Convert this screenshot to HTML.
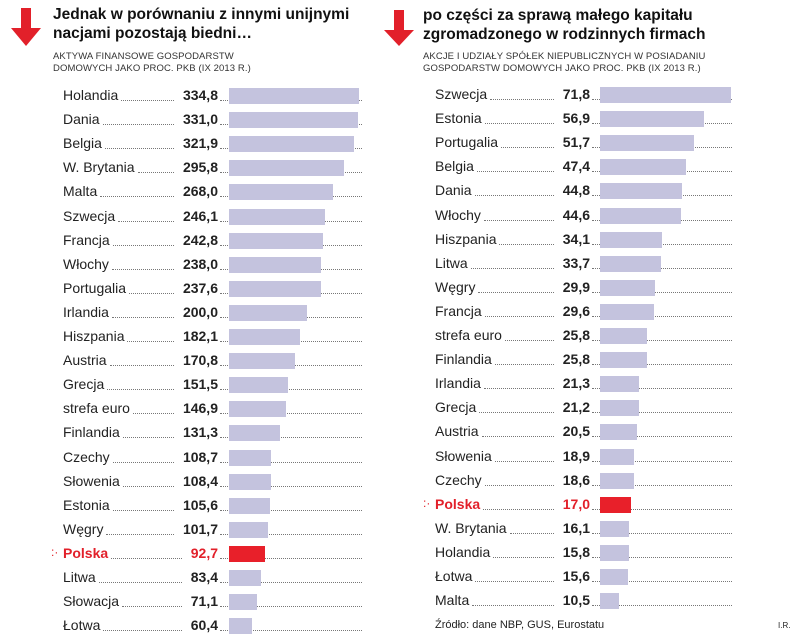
<!DOCTYPE html>
<html><head><meta charset="utf-8">
<style>
body{margin:0;background:#fff;width:805px;height:640px;overflow:hidden;position:relative;font-family:"Liberation Sans",sans-serif;color:#222}
.t{position:absolute;font-weight:bold;font-size:15.5px;line-height:19px;color:#111}
.s{position:absolute;font-size:9.5px;line-height:12px;color:#333;letter-spacing:0.1px}
.lab{position:absolute;font-size:14px;line-height:16px;white-space:nowrap}
.val{position:absolute;font-size:14px;line-height:16px;font-weight:bold;text-align:right;width:60px}
.dot{position:absolute;height:0;border-bottom:1.5px dotted #777}
.bar{position:absolute;height:16px;background:#c4c3de}
.red{color:#e2202a}
</style></head><body>
<svg style="position:absolute;left:8px;top:8px" width="36" height="40"><path d="M13 0h10v20h10L18 38 3 20h10z" fill="#e2202a"/></svg>
<svg style="position:absolute;left:381px;top:10px" width="36" height="40"><path d="M13 0h10v20h10L18 36 3 20h10z" fill="#e2202a"/></svg>
<div class="t" style="left:53px;top:5px">Jednak w porównaniu z innymi unijnymi<br>nacjami pozostają biedni…</div>
<div class="s" style="left:53px;top:51px">AKTYWA FINANSOWE GOSPODARSTW<br>DOMOWYCH JAKO PROC. PKB (IX 2013 R.)</div>
<div class="t" style="left:423px;top:6px">po części za sprawą małego kapitału<br>zgromadzonego w rodzinnych firmach</div>
<div class="s" style="left:423px;top:51px">AKCJE I UDZIAŁY SPÓŁEK NIEPUBLICZNYCH W POSIADANIU<br>GOSPODARSTW DOMOWYCH JAKO PROC. PKB (IX 2013 R.)</div>
<div style="position:absolute;left:435px;top:619px;font-size:11px">Źródło: dane NBP, GUS, Eurostatu</div>
<div style="position:absolute;left:778px;top:621px;font-size:8px">I.R.</div>
<script>
const leftCats=["Holandia","Dania","Belgia","W. Brytania","Malta","Szwecja","Francja","Włochy","Portugalia","Irlandia","Hiszpania","Austria","Grecja","strefa euro","Finlandia","Czechy","Słowenia","Estonia","Węgry","Polska","Litwa","Słowacja","Łotwa"];
const leftVals=[334.8,331.0,321.9,295.8,268.0,246.1,242.8,238.0,237.6,200.0,182.1,170.8,151.5,146.9,131.3,108.7,108.4,105.6,101.7,92.7,83.4,71.1,60.4];
const rightCats=["Szwecja","Estonia","Portugalia","Belgia","Dania","Włochy","Hiszpania","Litwa","Węgry","Francja","strefa euro","Finlandia","Irlandia","Grecja","Austria","Słowenia","Czechy","Polska","W. Brytania","Holandia","Łotwa","Malta"];
const rightVals=[71.8,56.9,51.7,47.4,44.8,44.6,34.1,33.7,29.9,29.6,25.8,25.8,21.3,21.2,20.5,18.9,18.6,17.0,16.1,15.8,15.6,10.5];
function fmt(v){return v.toFixed(1).replace('.',',');}
function draw(cats,vals,o){
  const max=Math.max(...vals);
  cats.forEach((c,i)=>{
    const cy=o.y0+i*o.step, hl=c==="Polska";
    const w=vals[i]/max*o.maxW;
    const lab=document.createElement('div');lab.className='lab'+(hl?' red':'');
    
    
    if(hl)lab.style.fontWeight='bold';
    lab.style.left=o.lx+'px';lab.style.top=(cy-9)+'px';lab.textContent=c;document.body.appendChild(lab);
    const d1=document.createElement('div');d1.className='dot';
    
    
    d1.style.left=(o.lx+lab.offsetWidth+3)+'px';d1.style.width=(o.vx-62-o.lx-lab.offsetWidth+60-4-( fmt(vals[i]).length*8.3))+'px';d1.style.top=(cy+4)+'px';document.body.appendChild(d1);
    const v=document.createElement('div');v.className='val'+(hl?' red':'');
    
    
    v.style.left=(o.vx-60)+'px';v.style.top=(cy-9)+'px';v.textContent=fmt(vals[i]);document.body.appendChild(v);
    const d2=document.createElement('div');d2.className='dot';
    
    
    d2.style.left=(o.vx+2)+'px';d2.style.width=(o.end-o.vx-2)+'px';d2.style.top=(cy+4)+'px';document.body.appendChild(d2);
    const b=document.createElement('div');b.className='bar';
    
    
    if(hl)b.style.background='#e8202a';
    b.style.left=o.bx+'px';b.style.top=(cy-8)+'px';b.style.width=w+'px';document.body.appendChild(b);
    if(hl){const m=document.createElement('div');m.className='red';
      
      
      m.style.cssText='position:absolute;font-size:12px;left:'+(o.lx-12)+'px;top:'+(cy-9)+'px';m.textContent=':·';document.body.appendChild(m);}
  });
}
draw(leftCats,leftVals,{y0:96,step:24.1,lx:63,vx:218,bx:229,maxW:130,end:362});
draw(rightCats,rightVals,{y0:95,step:24.1,lx:435,vx:590,bx:600,maxW:131,end:732});
</script>
</body></html>
